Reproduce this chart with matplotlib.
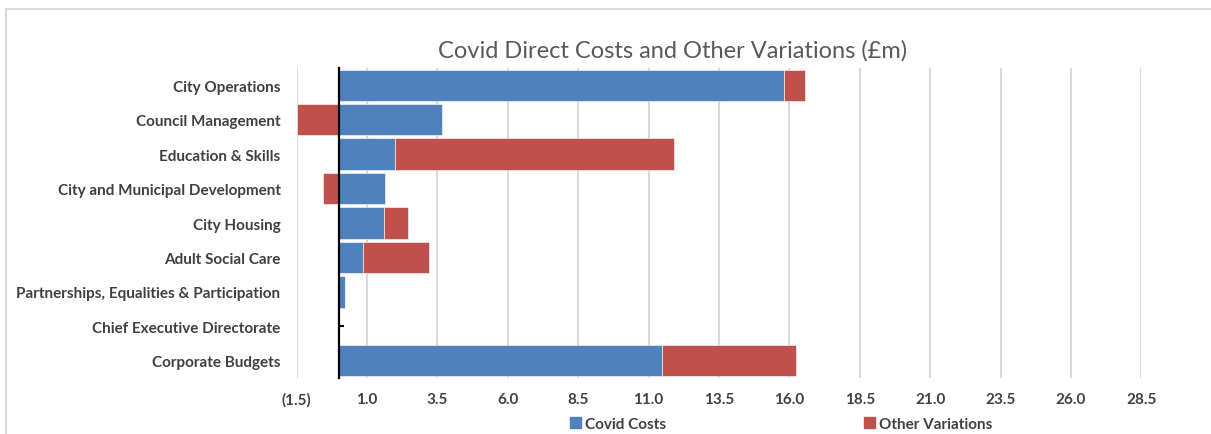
import numpy as np
import matplotlib
matplotlib.use("Agg")
import matplotlib.pyplot as plt
from matplotlib.patches import Patch, Rectangle

# directorate figures, £m
directorates = [
    "City Operations",
    "Council Management",
    "Education & Skills",
    "City and Municipal Development",
    "City Housing",
    "Adult Social Care",
    "Partnerships, Equalities & Participation",
    "Chief Executive Directorate",
    "Corporate Budgets",
]
covid_costs = [15.81, 3.66, 2.00, 1.62, 1.59, 0.85, 0.22, 0.0, 11.47]
other_variations = [0.76, -1.50, 9.90, -0.57, 0.86, 2.36, 0.0, 0.0, 4.77]

x_ticks = np.arange(-1.5, 28.6, 2.5)

blue = "#4F81BD"
red = "#C0504D"
grid_grey = "#D9D9D9"
label_grey = "#404040"
fs = 11

plt.rcParams["font.family"] = ["Lato", "DejaVu Sans"]

fig = plt.figure(figsize=(12.11, 4.35), dpi=100)
ax = fig.add_axes([0.245, 0.1287, 0.6975, 0.7127])

y = np.arange(len(directorates))
covid = np.array(covid_costs)
other = np.array(other_variations)
# negatives stack down from zero, positives on top of the covid bar
other_left = np.where(other >= 0, covid, 0)

ax.barh(y, covid, height=0.91, color=blue, edgecolor="white", linewidth=0.4, zorder=3)
ax.barh(y, other, left=other_left, height=0.91, color=red, edgecolor="white", linewidth=0.4, zorder=3)

ax.set_ylim(len(directorates) - 0.5, -0.5)
ax.set_xlim(-1.5, 28.5)
ax.set_xticks(x_ticks)
ax.set_xticklabels(["(1.5)" if v < 0 else "%.1f" % v for v in x_ticks])
ax.set_yticks(y)
ax.set_yticklabels(directorates)

for s in ["top", "right", "bottom"]:
    ax.spines[s].set_visible(False)
ax.spines["left"].set_position(("data", 0))
ax.spines["left"].set_linewidth(1.6)
ax.spines["left"].set_color("black")
ax.spines["left"].set_zorder(4)

ax.grid(axis="x", color=grid_grey, linewidth=1.5, zorder=0)
ax.tick_params(axis="x", length=0, pad=10, labelsize=fs, labelcolor=label_grey)
ax.tick_params(axis="y", direction="in", length=3.5, width=1.5, pad=42,
               labelsize=fs, labelcolor=label_grey)
for lab in ax.get_xticklabels() + ax.get_yticklabels():
    lab.set_fontweight("bold")

fig.text(672.5 / 1211, 1 - 51 / 435, "Covid Direct Costs and Other Variations (£m)",
         ha="center", va="center", fontsize=17, color="#595959")

handles = [Patch(color=blue, label="Covid Costs"), Patch(color=red, label="Other Variations")]
leg = fig.legend(handles=handles, loc="center left", bbox_to_anchor=(570 / 1211, 1 - 425 / 435),
                 ncol=2, frameon=False, borderpad=0, borderaxespad=0, handlelength=0.7,
                 handleheight=0.7, handletextpad=0.25, columnspacing=13.0,
                 prop={"size": fs, "weight": "bold"})
for t in leg.get_texts():
    t.set_color(label_grey)

# light chart border
fig.patches.append(Rectangle((6 / 1211, -0.1), 1.2, 1.1 - 10 / 435,
                             transform=fig.transFigure, fill=False,
                             edgecolor=grid_grey, linewidth=1.5))

fig.savefig("out.png", dpi=100)
